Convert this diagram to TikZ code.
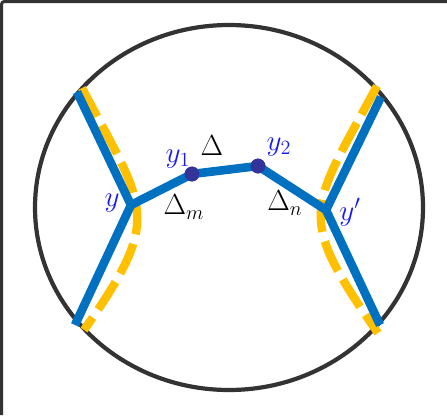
\documentclass[tikz,border=0pt]{standalone}
\usepackage{xcolor}
\definecolor{graphBlue}{HTML}{0070C0}
\definecolor{graphIndigo}{HTML}{333399}
\definecolor{graphOchre}{HTML}{FFC000}
\definecolor{graphLabel}{HTML}{1A1AF0}
\definecolor{graphFrame}{HTML}{333333}
\usepackage{tikz}
\usetikzlibrary{positioning}
\tikzset{
  %% -- Lines --------------------------------------------------------------
  bord/.style      = {draw=graphFrame, line width=0.105cm},
  arete/.style     = {draw=graphBlue, line width=0.215cm},
  coupure/.style   = {draw=graphOchre, line width=0.21cm,
                      dash pattern=on 23pt off 7pt},
  %%
  %% -- Points and text ----------------------------------------------------
  sommet/.style    = {circle, fill=graphIndigo, inner sep=0pt,
                      minimum size=0.37cm},
  bout/.style      = {inner sep=0pt, minimum size=0pt},
  etiquette/.style = {font=\huge, text=graphLabel, inner sep=0pt},
  etiquetteNoire/.style = {font=\huge, text=black, inner sep=0pt},
}

\begin{document}
\begin{tikzpicture}[x=0.025cm, y=-0.025cm]

\useasboundingbox (0,0) rectangle (447,415);
\draw[graphFrame, line width=0.075cm, rounded corners=2pt]
     (1.5,415) -- (1.5,1.5) -- (447,1.5);

% boundary
\draw[bord] (229,207.5) ellipse [x radius=194, y radius=182.5];

% cuts
\draw[coupure] (82,88) .. controls (146,210) and (164,216) .. (84,330);
\draw[coupure] (377,86) .. controls (310,211) and (294,213) .. (378,333);

% graph
\node[bout] (hg) at (77,92) {};
\node[bout] (bg) at (75,325) {};
\node[bout] (hd) at (381,97) {};
\node[bout] (bd) at (380,325) {};
\node[bout] (y)  at (131,205) {};
\node[bout] (yp) at (326,210) {};
\node[sommet] (y1) at (192,174) {};
\node[sommet] (y2) at (258,166) {};

\draw[arete] (hg.center) -- (y.center) -- (bg.center);
\draw[arete] (hd.center) -- (yp.center) -- (bd.center);
\draw[arete] (y.center) -- (y1.center) -- (y2.center) -- (yp.center);
\node[sommet] at (y1) {};
\node[sommet] at (y2) {};

% labels
\node[etiquette] (ly)  at (112,203) {$y$};
\node[etiquette] (ly1) at (178,159) {$y_1$};
\node[etiquette] (ly2) at (279,147) {$y_2$};
\node[etiquette] (lyp) at (350,212) {$y'$};
\node[etiquetteNoire] (ld)  at (212,146) {$\Delta$};
\node[etiquetteNoire] (ldm) at (184,207) {$\Delta_m$};
\node[etiquetteNoire] (ldn) at (285,203) {$\Delta_n$};

\end{tikzpicture}
\end{document}
